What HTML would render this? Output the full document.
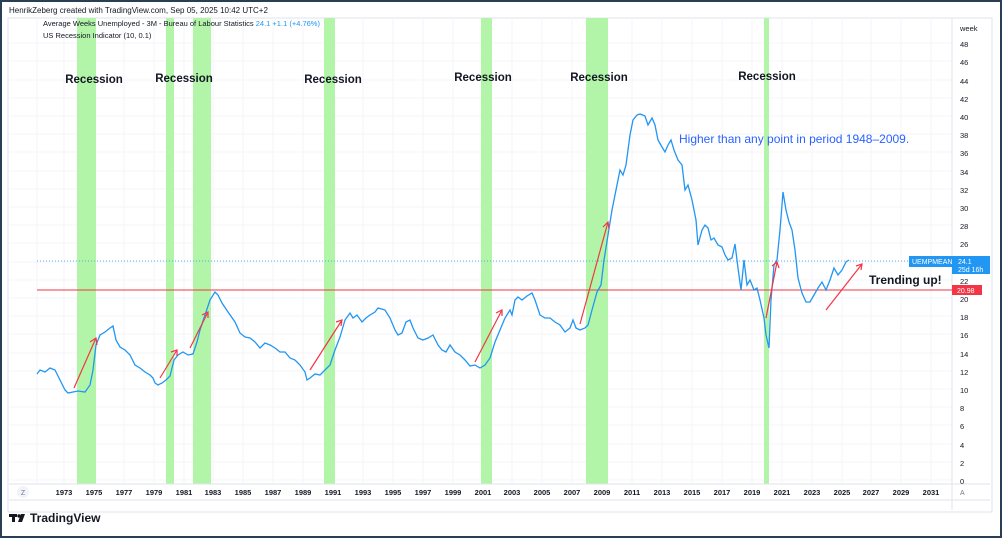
<!DOCTYPE html>
<html><head><meta charset="utf-8"><style>
body{margin:0;width:1002px;height:538px;overflow:hidden;background:#fff;font-family:"Liberation Sans",sans-serif}
</style></head><body>
<svg width="1002" height="538" viewBox="0 0 1002 538" xmlns="http://www.w3.org/2000/svg" font-family="Liberation Sans, sans-serif">
<rect x="1" y="1" width="1000" height="536" fill="#fff" stroke="#2a3f55" stroke-width="2"/>
<rect x="8" y="18" width="984" height="494" fill="none" stroke="#e0e3eb"/>
<text x="9" y="13" font-size="8" fill="#131722">HenrikZeberg created with TradingView.com, Sep 05, 2025 10:42 UTC+2</text>
<g stroke="#f5f6fa" stroke-width="1">
<line x1="37" y1="18" x2="37" y2="484"/>
<line x1="64" y1="18" x2="64" y2="484"/><line x1="94" y1="18" x2="94" y2="484"/><line x1="124" y1="18" x2="124" y2="484"/><line x1="154" y1="18" x2="154" y2="484"/><line x1="184" y1="18" x2="184" y2="484"/><line x1="213" y1="18" x2="213" y2="484"/><line x1="243" y1="18" x2="243" y2="484"/><line x1="273" y1="18" x2="273" y2="484"/><line x1="303" y1="18" x2="303" y2="484"/><line x1="333" y1="18" x2="333" y2="484"/><line x1="363" y1="18" x2="363" y2="484"/><line x1="393" y1="18" x2="393" y2="484"/><line x1="423" y1="18" x2="423" y2="484"/><line x1="453" y1="18" x2="453" y2="484"/><line x1="483" y1="18" x2="483" y2="484"/><line x1="512" y1="18" x2="512" y2="484"/><line x1="542" y1="18" x2="542" y2="484"/><line x1="572" y1="18" x2="572" y2="484"/><line x1="602" y1="18" x2="602" y2="484"/><line x1="632" y1="18" x2="632" y2="484"/><line x1="662" y1="18" x2="662" y2="484"/><line x1="692" y1="18" x2="692" y2="484"/><line x1="722" y1="18" x2="722" y2="484"/><line x1="752" y1="18" x2="752" y2="484"/><line x1="782" y1="18" x2="782" y2="484"/><line x1="812" y1="18" x2="812" y2="484"/><line x1="842" y1="18" x2="842" y2="484"/><line x1="871" y1="18" x2="871" y2="484"/><line x1="901" y1="18" x2="901" y2="484"/><line x1="931" y1="18" x2="931" y2="484"/>
<line x1="9" y1="480" x2="952" y2="480"/><line x1="9" y1="462" x2="952" y2="462"/><line x1="9" y1="444" x2="952" y2="444"/><line x1="9" y1="425" x2="952" y2="425"/><line x1="9" y1="407" x2="952" y2="407"/><line x1="9" y1="389" x2="952" y2="389"/><line x1="9" y1="371" x2="952" y2="371"/><line x1="9" y1="353" x2="952" y2="353"/><line x1="9" y1="334" x2="952" y2="334"/><line x1="9" y1="316" x2="952" y2="316"/><line x1="9" y1="298" x2="952" y2="298"/><line x1="9" y1="280" x2="952" y2="280"/><line x1="9" y1="262" x2="952" y2="262"/><line x1="9" y1="243" x2="952" y2="243"/><line x1="9" y1="225" x2="952" y2="225"/><line x1="9" y1="207" x2="952" y2="207"/><line x1="9" y1="189" x2="952" y2="189"/><line x1="9" y1="171" x2="952" y2="171"/><line x1="9" y1="152" x2="952" y2="152"/><line x1="9" y1="134" x2="952" y2="134"/><line x1="9" y1="116" x2="952" y2="116"/><line x1="9" y1="98" x2="952" y2="98"/><line x1="9" y1="80" x2="952" y2="80"/><line x1="9" y1="61" x2="952" y2="61"/><line x1="9" y1="43" x2="952" y2="43"/>
</g>
<g fill="#b2f5a8">
<rect x="77" y="18" width="19" height="466"/><rect x="166" y="18" width="8" height="466"/><rect x="193" y="18" width="18" height="466"/><rect x="324" y="18" width="11" height="466"/><rect x="481" y="18" width="11" height="466"/><rect x="586" y="18" width="22" height="466"/><rect x="764" y="18" width="5" height="466"/>
</g>
<line x1="952" y1="18" x2="952" y2="510" stroke="#e0e3eb"/>
<line x1="9" y1="484" x2="990" y2="484" stroke="#e0e3eb"/>
<line x1="9" y1="500" x2="990" y2="500" stroke="#e0e3eb"/>
<text x="43" y="26" font-size="7.5" fill="#131722">Average Weeks Unemployed - 3M - Bureau of Labour Statistics <tspan fill="#2196f3">24.1  +1.1 (+4.76%)</tspan></text>
<text x="43" y="38" font-size="7.5" fill="#131722">US Recession Indicator (10, 0.1)</text>
<line x1="37" y1="261" x2="909" y2="261" stroke="#2196f3" stroke-width="0.8" stroke-dasharray="1,2"/>
<line x1="37" y1="290" x2="952" y2="290" stroke="#f23645" stroke-width="1"/>
<polyline fill="none" stroke="#2196f3" stroke-width="1.3" points="37,374 40,370 45,372 50,368 55,370 60,380 65,390 68,393 73,392 78,391 85,392 90,385 93,370 96,345 100,335 105,332 110,328 113,326 116,340 120,347 125,350 130,355 135,365 140,368 145,372 150,375 153,378 155,383 158,385 162,383 166,380 170,376 174,360 178,355 183,352 188,355 193,354 197,342 200,330 205,315 210,300 215,292 218,295 222,303 228,312 235,322 240,333 245,337 250,338 255,342 260,348 265,343 270,345 275,348 280,352 285,352 290,358 295,360 300,365 305,372 307,380 310,378 315,374 320,375 325,370 330,365 335,350 340,337 345,320 350,313 353,318 357,315 362,322 366,318 370,315 375,312 378,308 385,310 390,318 395,330 398,335 402,333 406,322 410,320 413,328 418,338 423,340 428,338 433,335 438,345 442,350 446,352 450,345 455,352 460,355 465,360 470,366 475,365 480,368 485,365 490,358 495,342 500,330 505,318 510,310 512,315 515,300 518,297 522,300 527,296 532,293 535,300 540,315 545,318 550,318 555,322 560,325 565,332 570,328 573,320 576,328 580,330 585,328 588,325 592,310 597,292 601,285 604,260 608,235 612,210 616,190 620,170 623,175 626,165 630,135 633,120 637,115 640,114 645,116 648,125 652,118 655,125 658,140 662,147 665,152 668,145 671,140 674,150 678,160 682,165 685,190 688,185 692,200 696,220 698,245 702,230 705,225 708,228 711,240 714,238 718,245 722,247 725,255 728,260 732,258 735,244 738,268 741,290 744,260 747,285 750,280 754,290 757,288 760,300 764,318 766,335 769,348 771,300 774,265 777,260 780,230 783,192 786,210 789,222 792,230 795,250 798,278 802,293 806,302 810,302 814,295 818,288 822,282 826,290 830,280 834,268 838,275 842,270 846,262 849,260"/>
<g stroke="#f23645" stroke-width="1.2" fill="none">
<line x1="74" y1="388" x2="96" y2="338"/><polyline points="90,342 96,338 97,345"/>
<line x1="160" y1="378" x2="177" y2="350"/><polyline points="171,352 177,350 177,356"/>
<line x1="190" y1="348" x2="208" y2="312"/><polyline points="202,315 208,312 208,318"/>
<line x1="310" y1="370" x2="342" y2="320"/><polyline points="336,322 342,320 341,326"/>
<line x1="475" y1="362" x2="502" y2="310"/><polyline points="496,313 502,310 502,316"/>
<line x1="580" y1="324" x2="608" y2="222"/><polyline points="603,227 608,222 609,229"/>
<line x1="766" y1="318" x2="777" y2="262"/><polyline points="772,266 777,262 779,268"/>
<line x1="826" y1="310" x2="862" y2="264"/><polyline points="856,266 862,264 861,270"/>
</g>
<g font-size="11.5" font-weight="bold" fill="#131722" text-anchor="middle">
<text x="94" y="83">Recession</text><text x="184" y="82">Recession</text><text x="333" y="83">Recession</text><text x="483" y="81">Recession</text><text x="599" y="81">Recession</text><text x="767" y="80">Recession</text>
</g>
<text x="679" y="143" font-size="12" fill="#2962ff">Higher than any point in period 1948–2009.</text>
<text x="869" y="284" font-size="12" font-weight="bold" fill="#131722">Trending up!</text>
<g font-size="7.5" fill="#131722">
<text x="960" y="31">week</text>
<text x="960" y="47">48</text><text x="960" y="65">46</text><text x="960" y="84">44</text><text x="960" y="102">42</text><text x="960" y="120">40</text><text x="960" y="138">38</text><text x="960" y="156">36</text><text x="960" y="175">34</text><text x="960" y="193">32</text><text x="960" y="211">30</text><text x="960" y="229">28</text><text x="960" y="247">26</text><text x="960" y="284">22</text><text x="960" y="302">20</text><text x="960" y="320">18</text><text x="960" y="338">16</text><text x="960" y="357">14</text><text x="960" y="375">12</text><text x="960" y="393">10</text><text x="960" y="411">8</text><text x="960" y="429">6</text><text x="960" y="448">4</text><text x="960" y="466">2</text><text x="960" y="484">0</text>
</g>
<rect x="909" y="256" width="43" height="11" fill="#2196f3"/>
<text x="912" y="264" font-size="7" fill="#fff">UEMPMEAN</text>
<rect x="952" y="256" width="38" height="18" fill="#2196f3"/>
<text x="958" y="264" font-size="7" fill="#fff">24.1</text>
<text x="958" y="272" font-size="7" fill="#fff">25d 16h</text>
<rect x="952" y="285" width="30" height="10" fill="#f23645"/>
<text x="957" y="293" font-size="7" fill="#fff">20.98</text>
<g font-size="7.5" font-weight="bold" fill="#131722" text-anchor="middle">
<text x="64" y="495">1973</text><text x="94" y="495">1975</text><text x="124" y="495">1977</text><text x="154" y="495">1979</text><text x="184" y="495">1981</text><text x="213" y="495">1983</text><text x="243" y="495">1985</text><text x="273" y="495">1987</text><text x="303" y="495">1989</text><text x="333" y="495">1991</text><text x="363" y="495">1993</text><text x="393" y="495">1995</text><text x="423" y="495">1997</text><text x="453" y="495">1999</text><text x="483" y="495">2001</text><text x="512" y="495">2003</text><text x="542" y="495">2005</text><text x="572" y="495">2007</text><text x="602" y="495">2009</text><text x="632" y="495">2011</text><text x="662" y="495">2013</text><text x="692" y="495">2015</text><text x="722" y="495">2017</text><text x="752" y="495">2019</text><text x="782" y="495">2021</text><text x="812" y="495">2023</text><text x="842" y="495">2025</text><text x="871" y="495">2027</text><text x="901" y="495">2029</text><text x="931" y="495">2031</text>
</g>
<circle cx="23" cy="492" r="6" fill="#f0f3fa"/><text x="23" y="495" font-size="7" fill="#787b86" text-anchor="middle">Z</text>
<text x="960" y="495" font-size="7" fill="#787b86">A</text>
<g fill="#131722">
<rect x="9" y="514" width="8" height="3"/><rect x="12" y="514" width="3" height="8"/><circle cx="19" cy="516" r="1.7"/><polygon points="21,514 25,514 22,522 18,522"/>
</g>
<text x="30" y="522" font-size="12" font-weight="bold" fill="#131722">TradingView</text>
</svg>
</body></html>
